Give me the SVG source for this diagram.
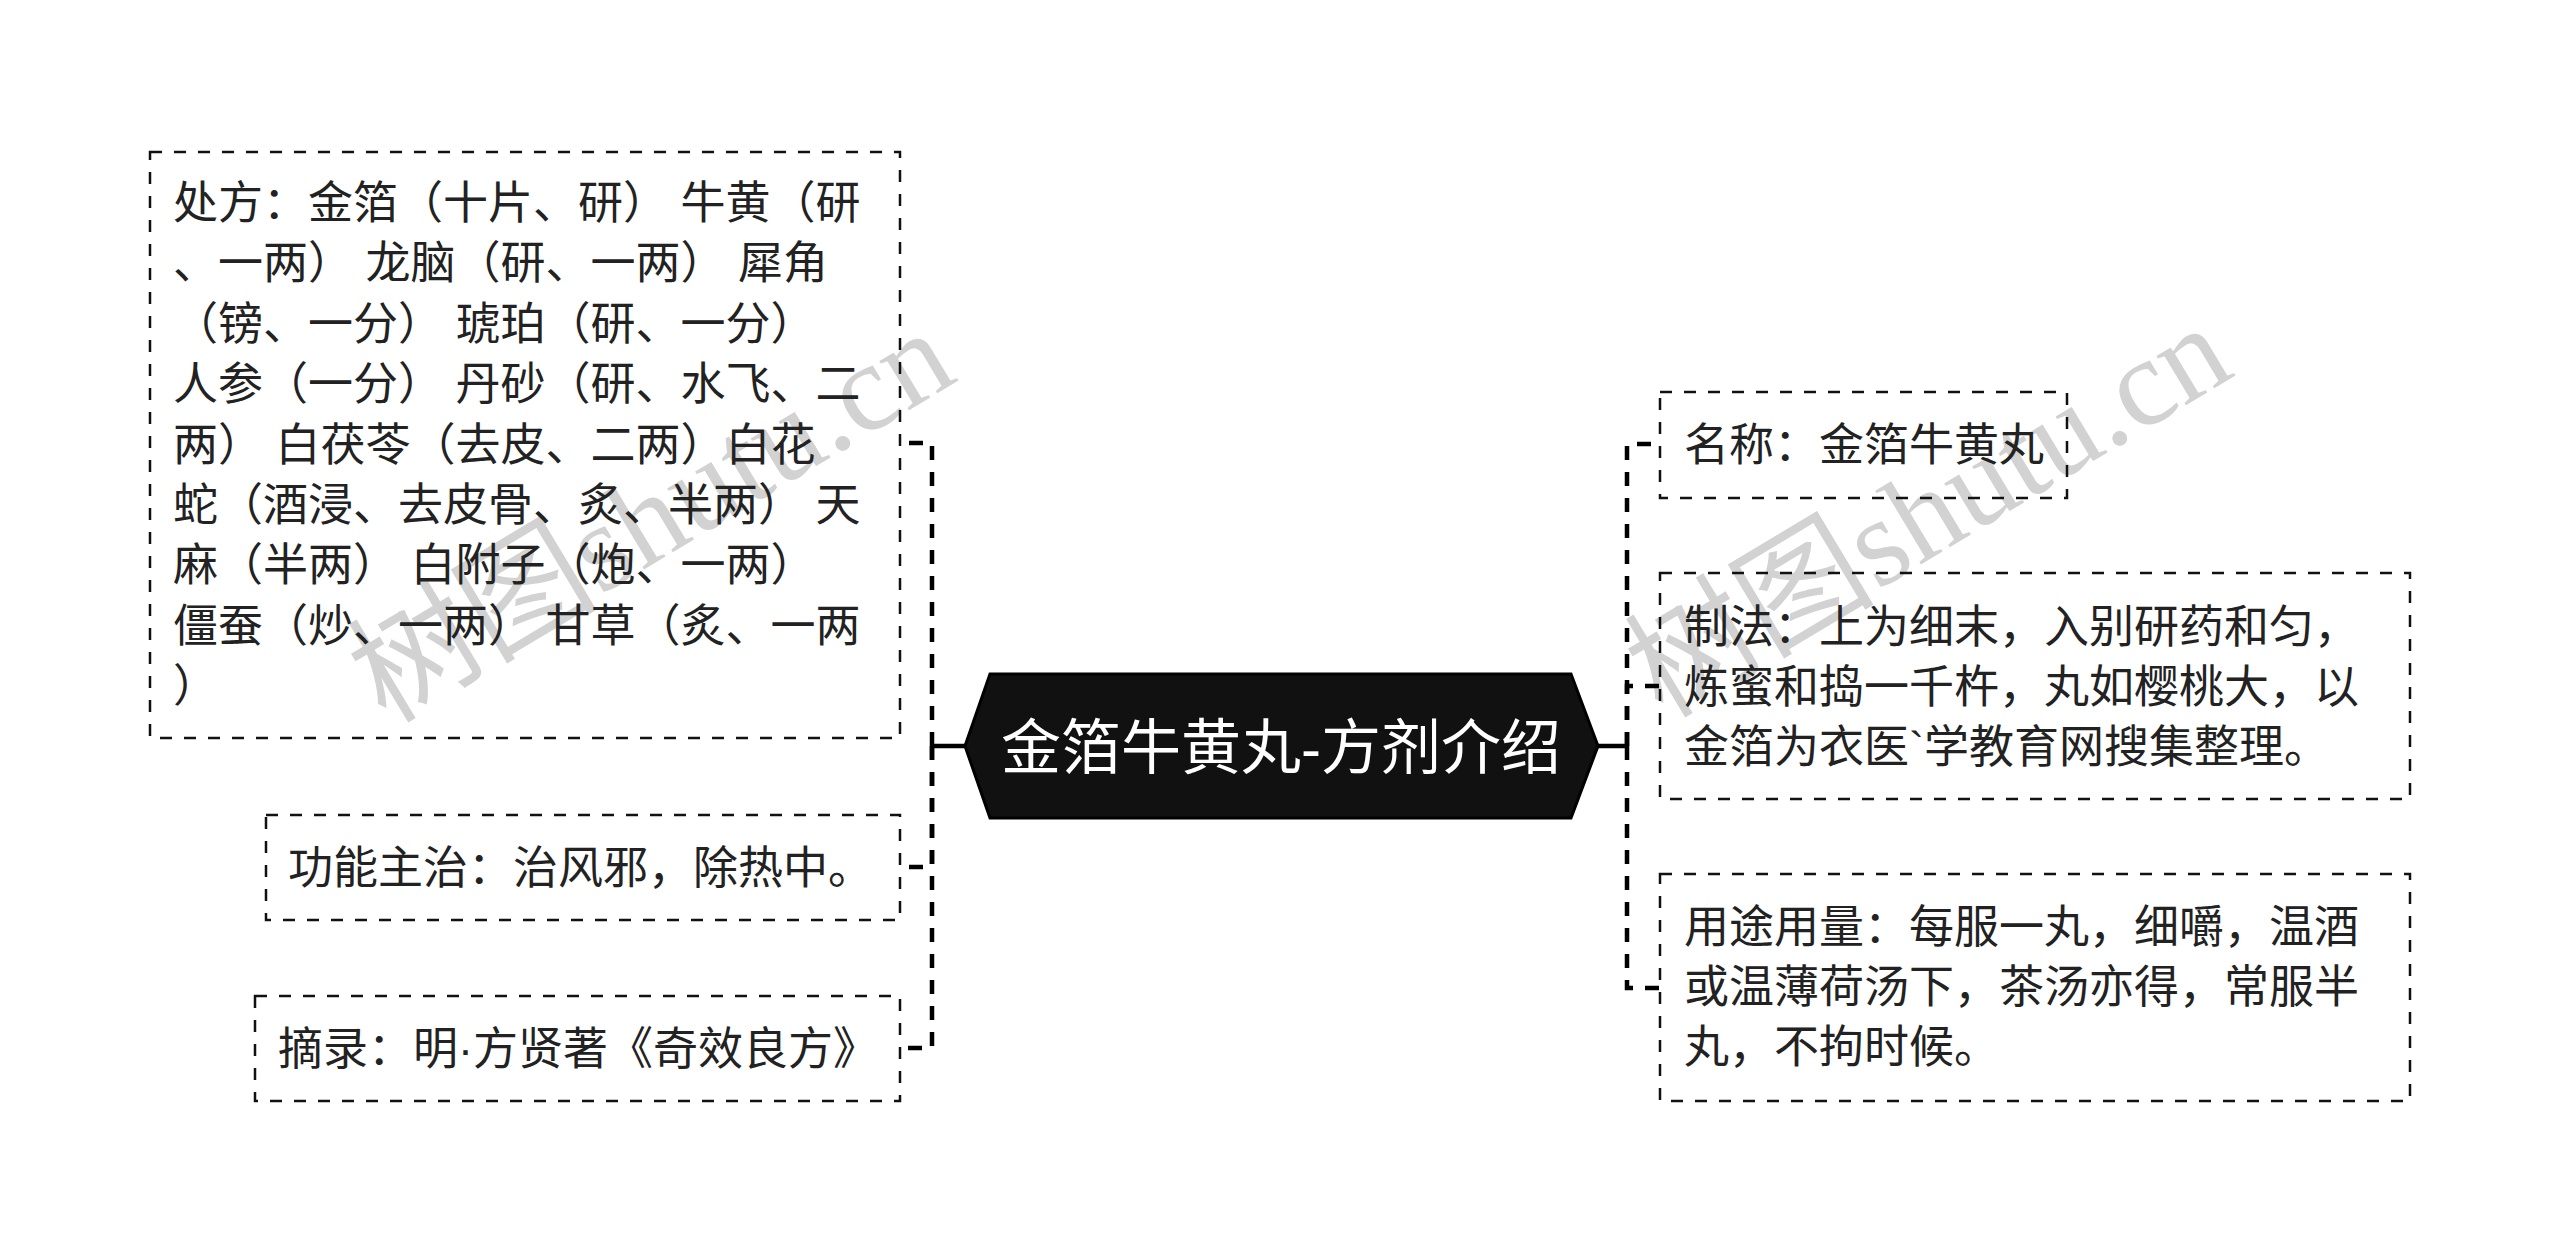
<svg xmlns="http://www.w3.org/2000/svg" width="2560" height="1252" viewBox="0 0 2560 1252">
<style>
.bg{fill:#ffffff}
.box{fill:none;stroke:#111;stroke-width:2.5;stroke-dasharray:12 12}
.t{font-family:"Liberation Sans","Noto Sans CJK SC",sans-serif;font-size:45px;fill:#222}
.title{font-family:"Liberation Sans","Noto Sans CJK SC",sans-serif;font-size:60px;fill:#ffffff}
.wm{font-family:"Liberation Serif","Noto Sans CJK SC",serif;font-size:125px;fill:#d2d2d2}
.trunk{fill:none;stroke:#000;stroke-width:4.5;stroke-dasharray:14 12}
.solid{fill:none;stroke:#000;stroke-width:4.5}
</style>
<rect class="bg" x="0" y="0" width="2560" height="1252"/>
<g id="watermarks">
<text class="wm" x="673" y="552" text-anchor="middle" transform="rotate(-31 673 552)">树图shutu.cn</text>
<text class="wm" x="1950" y="547" text-anchor="middle" transform="rotate(-31 1950 547)">树图shutu.cn</text>
</g>
<g id="connectors">
<path class="solid" d="M965 746 H932"/>
<path class="trunk" d="M932 746 V443 H900"/>
<path class="trunk" d="M932 746 V867 H900"/>
<path class="trunk" d="M932 746 V1048 H900"/>
<path class="solid" d="M1598 746 H1627"/>
<path class="trunk" d="M1627 746 V444 H1660"/>
<path class="trunk" d="M1627 746 V686 H1660"/>
<path class="trunk" d="M1627 746 V988 H1660"/>
</g>
<g id="root">
<polygon points="965,746 990,674 1571,674 1598,746 1571,818 990,818" fill="#111" stroke="#000" stroke-width="3"/>
<text class="title" x="1281" y="769" text-anchor="middle">金箔牛黄丸-方剂介绍</text>
</g>
<g id="node-chufang">
<rect class="box" x="150" y="152" width="750" height="586"/>
<text class="t">
<tspan x="173" y="219">处方：金箔（十片、研） 牛黄（研</tspan>
<tspan x="173" y="279.4">、一两） 龙脑（研、一两） 犀角</tspan>
<tspan x="173" y="339.8">（镑、一分） 琥珀（研、一分）</tspan>
<tspan x="173" y="400.2">人参（一分） 丹砂（研、水飞、二</tspan>
<tspan x="173" y="460.6">两） 白茯苓（去皮、二两）白花</tspan>
<tspan x="173" y="521">蛇（酒浸、去皮骨、炙、半两） 天</tspan>
<tspan x="173" y="581.4">麻（半两） 白附子（炮、一两）</tspan>
<tspan x="173" y="641.8">僵蚕（炒、一两） 甘草（炙、一两</tspan>
<tspan x="173" y="702.2">）</tspan>
</text>
</g>
<g id="node-gongneng">
<rect class="box" x="266" y="815" width="634" height="105"/>
<text class="t" x="288" y="884">功能主治：治风邪，除热中。</text>
</g>
<g id="node-zhailu">
<rect class="box" x="255" y="996" width="645" height="105"/>
<text class="t" x="278" y="1065">摘录：明·方贤著《奇效良方》</text>
</g>
<g id="node-mingcheng">
<rect class="box" x="1660" y="392" width="407" height="106"/>
<text class="t" x="1684" y="461">名称：金箔牛黄丸</text>
</g>
<g id="node-zhifa">
<rect class="box" x="1660" y="573" width="750" height="226"/>
<text class="t">
<tspan x="1684" y="643">制法：上为细末，入别研药和匀，</tspan>
<tspan x="1684" y="703">炼蜜和捣一千杵，丸如樱桃大，以</tspan>
<tspan x="1684" y="763">金箔为衣医`学教育网搜集整理。</tspan>
</text>
</g>
<g id="node-yongtu">
<rect class="box" x="1660" y="874" width="750" height="227"/>
<text class="t">
<tspan x="1684" y="943">用途用量：每服一丸，细嚼，温酒</tspan>
<tspan x="1684" y="1003">或温薄荷汤下，茶汤亦得，常服半</tspan>
<tspan x="1684" y="1063">丸，不拘时候。</tspan>
</text>
</g>
</svg>
